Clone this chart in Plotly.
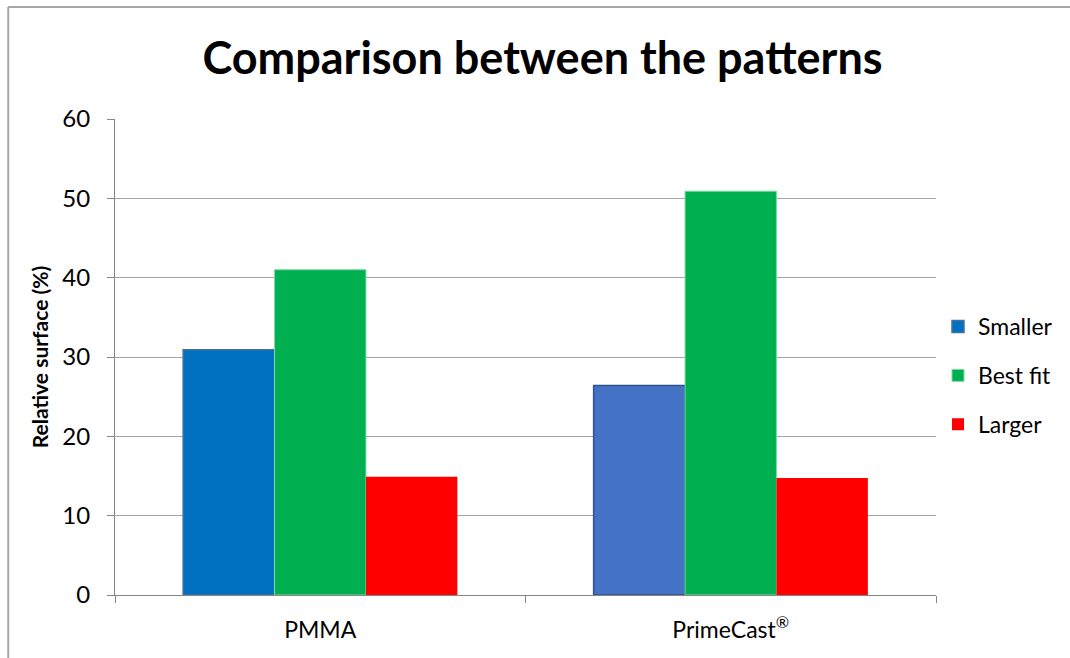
import plotly.graph_objects as go

categories = ["PMMA", "PrimeCast<sup>®</sup>"]
smaller = [30.9, 26.4]
best_fit = [41.0, 50.9]
larger = [14.9, 14.75]
y_ticks = [0, 10, 20, 30, 40, 50, 60]

FONT = "Lato"

fig = go.Figure()
fig.add_trace(go.Bar(
    name="Smaller", x=categories, y=smaller,
    marker=dict(color=["#0070C0", "#4472C4"],
                line=dict(color=["#41719C", "#2F528F"], width=1.5)),
    legendgroup="a"))
fig.add_trace(go.Bar(
    name="Best fit", x=categories, y=best_fit,
    marker=dict(color="#00B050", line=dict(color="#7FD8A7", width=1)),
    legendgroup="b"))
fig.add_trace(go.Bar(
    name="Larger", x=categories, y=larger,
    marker=dict(color="#FF0000", line=dict(width=0)),
    legendgroup="c"))

L, R, T, B = 115, 132, 119, 63
W, H = 1070, 658
pw, ph = W - L - R, H - T - B

def px_x(p):
    return (p - L) / pw

def px_y(p):
    return (H - B - p) / ph

fig.update_layout(
    width=W, height=H,
    margin=dict(l=L, r=R, t=T, b=B),
    paper_bgcolor="white", plot_bgcolor="white",
    barmode="group", bargap=0.332, bargroupgap=0,
    font=dict(family=FONT, color="#000000"),
    title=dict(text="<b>Comparison between the patterns</b>",
               x=0.507, xanchor="center", y=1 - 58 / H, yanchor="middle",
               font=dict(size=45, family=FONT, color="#000000")),
    legend=dict(x=px_x(940), xanchor="left", y=px_y(305), yanchor="top",
                font=dict(size=23, family=FONT), tracegroupgap=16,
                itemwidth=30, bgcolor="rgba(0,0,0,0)"),
    xaxis=dict(showline=True, linecolor="#868686", linewidth=1,
               ticks="outside", tickson="boundaries", ticklen=7,
               tickcolor="#868686", ticklabelstandoff=14,
               tickfont=dict(size=23, family=FONT), showgrid=False),
    yaxis=dict(range=[0, 60], tickvals=y_ticks, showline=True,
               linecolor="#868686", linewidth=1, ticks="outside",
               ticklen=7, tickcolor="#868686", ticklabelstandoff=12,
               gridcolor="#A6A6A6", gridwidth=1,
               tickfont=dict(size=24, family=FONT),
               title=dict(text="<b>Relative surface (%)</b>",
                          font=dict(size=21, family=FONT), standoff=8),
               zeroline=False),
    shapes=[
        dict(type="line", xref="paper", yref="paper",
             x0=px_x(8), x1=px_x(8), y0=px_y(7), y1=px_y(700),
             line=dict(color="#A6A6A6", width=2)),
        dict(type="line", xref="paper", yref="paper",
             x0=px_x(8), x1=px_x(1100), y0=px_y(7), y1=px_y(7),
             line=dict(color="#A6A6A6", width=2)),
    ],
)

fig.write_html("out.html")
